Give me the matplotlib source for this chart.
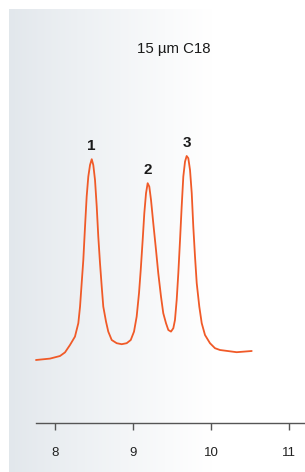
import numpy as np
import matplotlib
matplotlib.use("Agg")
import matplotlib.pyplot as plt
from matplotlib import font_manager

# ---- data ----
time_min = [7.756, 7.936, 8.064, 8.128, 8.192, 8.256, 8.299, 8.321, 8.342, 8.363,
            8.385, 8.406, 8.427, 8.449, 8.471, 8.491, 8.513, 8.535, 8.555, 8.577,
            8.599, 8.619, 8.654, 8.683, 8.727, 8.791, 8.855, 8.919, 8.971, 9.013,
            9.047, 9.077, 9.099, 9.124, 9.145, 9.167, 9.188, 9.209, 9.231, 9.260,
            9.295, 9.324, 9.359, 9.388, 9.423, 9.453, 9.487, 9.517, 9.538, 9.560,
            9.581, 9.603, 9.624, 9.645, 9.667, 9.688, 9.709, 9.731, 9.753, 9.773,
            9.795, 9.817, 9.850, 9.881, 9.923, 9.987, 10.051, 10.115, 10.329, 10.522]
signal = [0.000, 0.007, 0.020, 0.038, 0.075, 0.117, 0.184, 0.267, 0.384, 0.500,
          0.667, 0.817, 0.917, 0.975, 1.004, 0.975, 0.900, 0.767, 0.617, 0.484,
          0.367, 0.267, 0.192, 0.142, 0.100, 0.084, 0.079, 0.084, 0.100, 0.142,
          0.217, 0.334, 0.450, 0.600, 0.734, 0.834, 0.884, 0.867, 0.800, 0.684,
          0.550, 0.434, 0.317, 0.234, 0.184, 0.150, 0.142, 0.159, 0.200, 0.300,
          0.434, 0.600, 0.767, 0.917, 0.992, 1.020, 1.009, 0.950, 0.834, 0.667,
          0.517, 0.384, 0.267, 0.184, 0.125, 0.084, 0.059, 0.050, 0.039, 0.045]
peak_labels = ["1", "2", "3"]
peak_times = [8.471, 9.188, 9.688]
peak_heights = [1.004, 0.884, 1.020]
x_ticks = [8, 9, 10, 11]
title = "15 µm C18"

def pick(*names):
    avail = {f.name for f in font_manager.fontManager.ttflist}
    for n in names:
        if n in avail:
            return n
    return "DejaVu Sans"

sans = pick("Liberation Sans", "DejaVu Sans")

fig = plt.figure(figsize=(3.05, 4.72), dpi=100)
ax = fig.add_axes([0, 0, 1, 1])
ax.set_xlim(7.2949, 11.2051)
ax.set_ylim(-0.56, 1.80)

# background gradient panel
W = 400
grad = np.linspace(0, 1, W)
fade = np.clip(grad / 0.68, 0, 1) ** 0.9
left = np.array([0.886, 0.906, 0.925])
cols = left[None, :] * (1 - fade[:, None]) + fade[:, None] * 1.0
img = np.tile(cols[None, :, :], (2, 1, 1))
ax.imshow(img, extent=[7.410, 11.2051, -0.56, 1.755], aspect="auto",
          zorder=0, interpolation="bilinear")

ax.plot(time_min, signal, color="#f05a28", lw=1.3, zorder=3,
        solid_joinstyle="round", solid_capstyle="round")

for lab, t, h in zip(peak_labels, peak_times, peak_heights):
    ax.annotate(lab, (t, h), xytext=(0, 13), textcoords="offset pixels",
                ha="center", va="center", fontsize=11, fontweight="bold",
                family=sans, color="#1a1a1a", zorder=4)

ax.text(0.570, 0.896, title, transform=ax.transAxes, ha="center", va="center",
        fontsize=10.8, family=sans, color="#1a1a1a")

for s in ["top", "right", "left"]:
    ax.spines[s].set_visible(False)
ax.spines["bottom"].set_position(("data", -0.315))
ax.spines["bottom"].set_bounds(7.756, 11.2051)
ax.spines["bottom"].set_color("#555555")
ax.spines["bottom"].set_linewidth(1.0)
ax.set_yticks([])
ax.set_xticks(x_ticks)
ax.set_xticklabels([str(v) for v in x_ticks])
ax.tick_params(axis="x", direction="out", length=5, width=1.0, color="#555555",
               pad=12, labelsize=9.5, labelcolor="#222222")
for lbl in ax.get_xticklabels():
    lbl.set_family(sans)

fig.savefig("out.png", dpi=100)
